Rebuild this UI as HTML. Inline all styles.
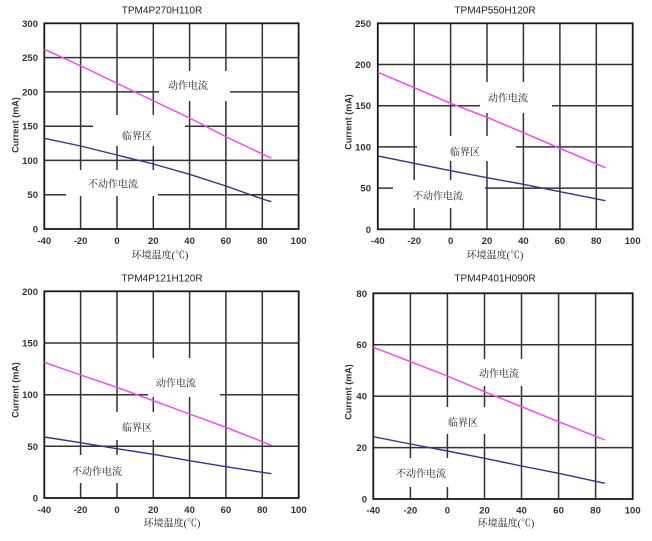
<!DOCTYPE html>
<html><head><meta charset="utf-8"><style>
html,body{margin:0;padding:0;background:#fff;}
svg{display:block;}
.g{stroke:#333;stroke-width:1.5;fill:none;}
.b{stroke:#1a1a1a;stroke-width:1.8;fill:none;}
.m{stroke:#ee48ee;stroke-width:1.4;fill:none;}
.n{stroke:#34348c;stroke-width:1.4;fill:none;}
.w{fill:#fff;stroke:none;}
.t{font-family:"Liberation Sans",Arial,sans-serif;font-size:10px;fill:#222;}
.tk{font-family:"Liberation Sans",Arial,sans-serif;font-size:9.5px;font-weight:bold;fill:#333;}
.yt{font-family:"Liberation Sans",Arial,sans-serif;font-size:9px;font-weight:bold;fill:#333;}
.c{font-family:"Liberation Serif","Noto Serif CJK SC","Noto Sans CJK SC",serif;font-size:10px;fill:#222;}
</style></head><body>
<svg width="652" height="541" viewBox="0 0 652 541" xmlns="http://www.w3.org/2000/svg">
<rect width="652" height="541" fill="#fff"/>

<!-- ================= Chart 1 ================= -->
<g>
<path class="g" d="M80.6 23.3V229M117 23.3V229M153.3 23.3V229M189.6 23.3V229M225.9 23.3V229M262.3 23.3V229
M44.3 57.6H298.6M44.3 91.9H298.6M44.3 126.2H298.6M44.3 160.4H298.6M44.3 194.7H298.6"/>
<rect class="w" x="159" y="71" width="71" height="30"/>
<rect class="w" x="93" y="115" width="92" height="31"/>
<rect class="w" x="66" y="170" width="92" height="26"/>
<rect class="b" x="44.3" y="23.3" width="254.3" height="205.7"/>
<polyline class="m" points="44.3,49.3 80.6,65.7 117,83.3 153.3,100.7 189.6,118 225.9,136.7 271.4,158.3"/>
<polyline class="n" points="44.3,138.3 80.6,146 117,155 153.3,164 189.6,174.3 225.9,186 262.3,199 271.4,201.7"/>
<text class="t" x="162" y="13.5" text-anchor="middle">TPM4P270H110R</text>
<g class="tk" text-anchor="end">
<text x="38" y="26.8">300</text><text x="38" y="61.1">250</text><text x="38" y="95.4">200</text>
<text x="38" y="129.7">150</text><text x="38" y="163.9">100</text><text x="38" y="198.2">50</text><text x="38" y="232.5">0</text>
</g>
<g class="tk" text-anchor="middle">
<text x="44.3" y="244">-40</text><text x="80.6" y="244">-20</text><text x="117" y="244">0</text>
<text x="153.3" y="244">20</text><text x="189.6" y="244">40</text><text x="225.9" y="244">60</text>
<text x="262.3" y="244">80</text><text x="298.6" y="244">100</text>
</g>
<text class="yt" transform="translate(18.5,125) rotate(-90)" text-anchor="middle">Current (mA)</text>
<text class="c" x="160" y="258.5" text-anchor="middle">环境温度(℃)</text>
<text class="c" x="188" y="89" text-anchor="middle">动作电流</text>
<text class="c" x="137" y="139.5" text-anchor="middle">临界区</text>
<text class="c" x="113" y="187.5" text-anchor="middle">不动作电流</text>
</g>

<!-- ================= Chart 2 ================= -->
<g>
<path class="g" d="M414.2 23.3V229.3M450.6 23.3V229.3M487 23.3V229.3M523.4 23.3V229.3M559.9 23.3V229.3M596.3 23.3V229.3
M377.8 64.5H632.7M377.8 105.7H632.7M377.8 146.9H632.7M377.8 188.1H632.7"/>
<rect class="w" x="480" y="82" width="72" height="31"/>
<rect class="w" x="417" y="136" width="99" height="25"/>
<rect class="w" x="393" y="180" width="92" height="28"/>
<rect class="b" x="377.8" y="23.3" width="254.9" height="206"/>
<polyline class="m" points="377.8,72.3 414.2,87.7 450.6,103.3 487,117.3 523.4,132.7 559.9,148.3 605.4,167.7"/>
<polyline class="n" points="377.8,156 414.2,163.3 450.6,170.7 487,177.7 523.4,184.3 559.9,191.7 605.4,200.7"/>
<text class="t" x="495" y="13.5" text-anchor="middle">TPM4P550H120R</text>
<g class="tk" text-anchor="end">
<text x="371" y="26.8">250</text><text x="371" y="68">200</text><text x="371" y="109.2">150</text>
<text x="371" y="150.4">100</text><text x="371" y="191.6">50</text><text x="371" y="232.8">0</text>
</g>
<g class="tk" text-anchor="middle">
<text x="377.8" y="244">-40</text><text x="414.2" y="244">-20</text><text x="450.6" y="244">0</text>
<text x="487" y="244">20</text><text x="523.4" y="244">40</text><text x="559.9" y="244">60</text>
<text x="596.3" y="244">80</text><text x="632.7" y="244">100</text>
</g>
<text class="yt" transform="translate(351.5,122) rotate(-90)" text-anchor="middle">Current (mA)</text>
<text class="c" x="495" y="258.5" text-anchor="middle">环境温度(℃)</text>
<text class="c" x="508" y="101.5" text-anchor="middle">动作电流</text>
<text class="c" x="465" y="155.5" text-anchor="middle">临界区</text>
<text class="c" x="438" y="199.5" text-anchor="middle">不动作电流</text>
</g>

<!-- ================= Chart 3 ================= -->
<g>
<path class="g" d="M80.6 291.3V498M117 291.3V498M153.3 291.3V498M189.6 291.3V498M225.9 291.3V498M262.3 291.3V498
M44.3 343H298.7M44.3 394.7H298.7M44.3 446.3H298.7"/>
<rect class="w" x="148" y="358" width="72" height="39"/>
<rect class="w" x="95" y="412" width="70" height="28"/>
<rect class="w" x="60" y="455" width="80" height="28"/>
<rect class="b" x="44.3" y="291.3" width="254.4" height="206.7"/>
<polyline class="m" points="44.3,362.3 80.6,375 117,387.3 153.3,400.7 189.6,414 225.9,427.3 271.4,445.3"/>
<polyline class="n" points="44.3,437 80.6,442.7 117,448.7 153.3,454.3 189.6,460.7 225.9,466.7 271.4,473.7"/>
<text class="t" x="162" y="281.5" text-anchor="middle">TPM4P121H120R</text>
<g class="tk" text-anchor="end">
<text x="38" y="294.8">200</text><text x="38" y="346.5">150</text><text x="38" y="398.2">100</text>
<text x="38" y="449.8">50</text><text x="38" y="501.5">0</text>
</g>
<g class="tk" text-anchor="middle">
<text x="44.3" y="513">-40</text><text x="80.6" y="513">-20</text><text x="117" y="513">0</text>
<text x="153.3" y="513">20</text><text x="189.6" y="513">40</text><text x="225.9" y="513">60</text>
<text x="262.3" y="513">80</text><text x="298.7" y="513">100</text>
</g>
<text class="yt" transform="translate(18.5,390) rotate(-90)" text-anchor="middle">Current (mA)</text>
<text class="c" x="172" y="526.5" text-anchor="middle">环境温度(℃)</text>
<text class="c" x="176" y="386.5" text-anchor="middle">动作电流</text>
<text class="c" x="137" y="430.8" text-anchor="middle">临界区</text>
<text class="c" x="97" y="475.2" text-anchor="middle">不动作电流</text>
</g>

<!-- ================= Chart 4 ================= -->
<g>
<path class="g" d="M410.4 293.3V499M447.4 293.3V499M484.5 293.3V499M521.5 293.3V499M558.6 293.3V499M595.6 293.3V499
M373.3 344.7H632.7M373.3 396.2H632.7M373.3 447.6H632.7"/>
<rect class="w" x="470" y="359" width="70" height="27"/>
<rect class="w" x="430" y="407" width="70" height="27"/>
<rect class="w" x="385" y="458" width="75" height="29"/>
<rect class="b" x="373.3" y="293.3" width="259.4" height="205.7"/>
<polyline class="m" points="373.3,347.3 410.4,361.7 447.4,376 484.5,391.7 521.5,406.7 558.6,421.7 604.9,440"/>
<polyline class="n" points="373.3,436.7 410.4,444 447.4,451 484.5,458.3 521.5,466 558.6,473.3 604.9,483.3"/>
<text class="t" x="495" y="281.5" text-anchor="middle">TPM4P401H090R</text>
<g class="tk" text-anchor="end">
<text x="367" y="296.8">80</text><text x="367" y="348.2">60</text><text x="367" y="399.7">40</text>
<text x="367" y="451.1">20</text><text x="367" y="502.5">0</text>
</g>
<g class="tk" text-anchor="middle">
<text x="373.3" y="513.5">-40</text><text x="410.4" y="513.5">-20</text><text x="447.4" y="513.5">0</text>
<text x="484.5" y="513.5">20</text><text x="521.5" y="513.5">40</text><text x="558.6" y="513.5">60</text>
<text x="595.6" y="513.5">80</text><text x="632.7" y="513.5">100</text>
</g>
<text class="yt" transform="translate(351.5,392) rotate(-90)" text-anchor="middle">Current (mA)</text>
<text class="c" x="506" y="526.5" text-anchor="middle">环境温度(℃)</text>
<text class="c" x="499" y="376.8" text-anchor="middle">动作电流</text>
<text class="c" x="463" y="426.2" text-anchor="middle">临界区</text>
<text class="c" x="421" y="476.8" text-anchor="middle">不动作电流</text>
</g>
</svg>
</body></html>
